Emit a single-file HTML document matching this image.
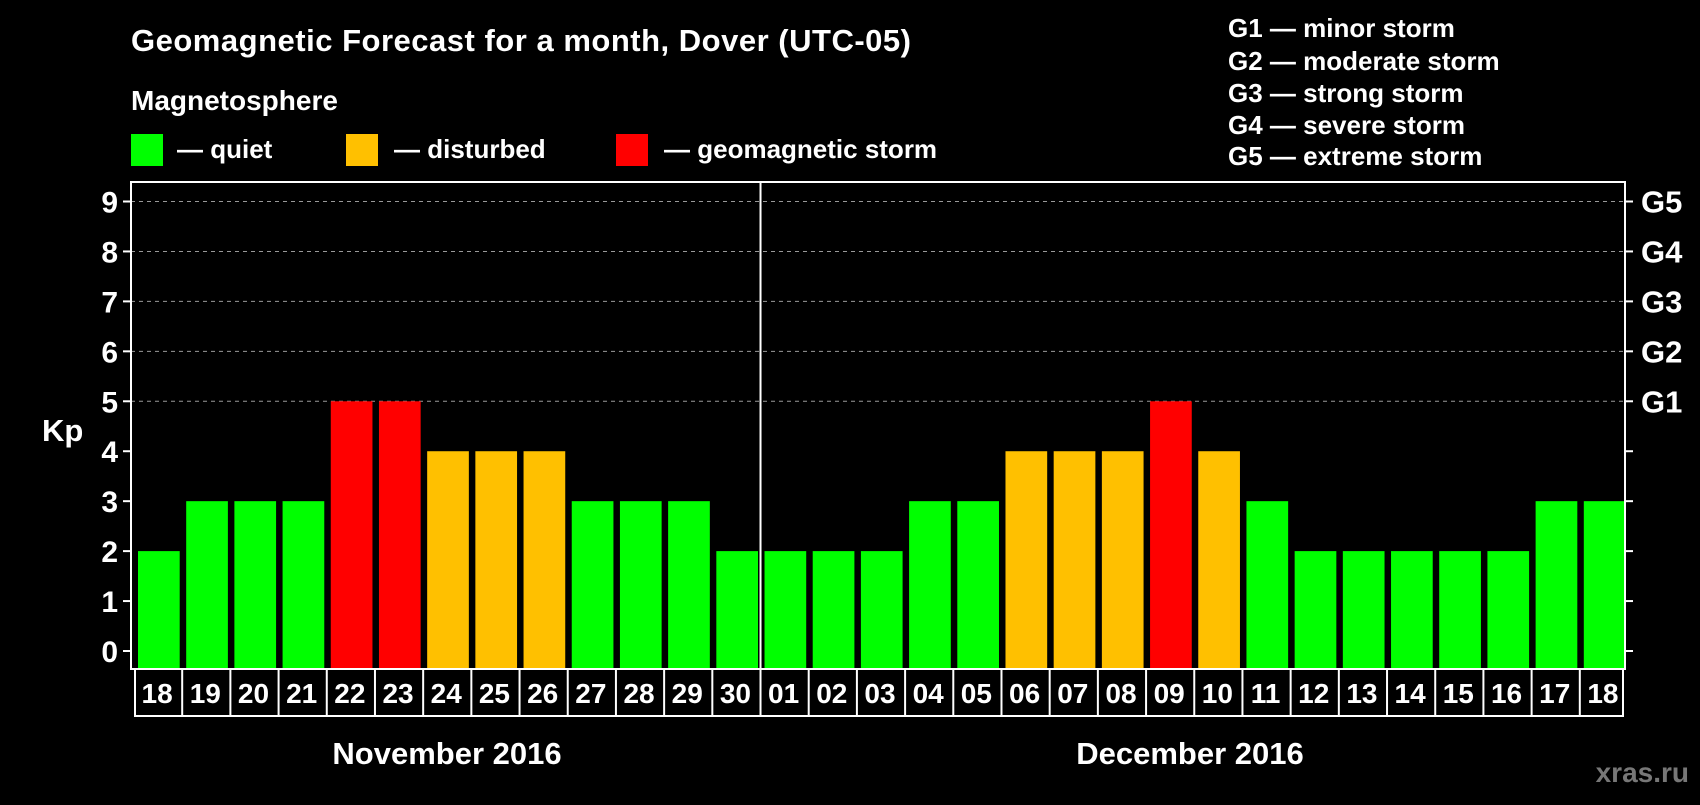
<!DOCTYPE html>
<html><head><meta charset="utf-8"><style>
body{margin:0;background:#000;width:1700px;height:800px;overflow:hidden}
svg text{font-family:"Liberation Sans",Arial,sans-serif;font-weight:bold;fill:#fff}
</style></head><body>
<svg id="c" width="1700" height="800">
<text x="131" y="51" font-size="31" textLength="780">Geomagnetic Forecast for a month, Dover (UTC-05)</text>
<text x="131" y="110" font-size="28">Magnetosphere</text>
<rect x="131" y="134" width="32" height="32" fill="#00ff00"/>
<text x="177" y="158" font-size="26">— quiet</text>
<rect x="346" y="134" width="32" height="32" fill="#ffc000"/>
<text x="394" y="158" font-size="26">— disturbed</text>
<rect x="616" y="134" width="32" height="32" fill="#ff0000"/>
<text x="664" y="158" font-size="26">— geomagnetic storm</text>
<g font-size="26">
<text x="1228" y="37">G1 — minor storm</text>
<text x="1228" y="70">G2 — moderate storm</text>
<text x="1228" y="102">G3 — strong storm</text>
<text x="1228" y="134">G4 — severe storm</text>
<text x="1228" y="165">G5 — extreme storm</text>
</g>
<text x="42" y="441" font-size="31">Kp</text>
<text x="447" y="764" font-size="31" text-anchor="middle">November 2016</text>
<text x="1190" y="764" font-size="31" text-anchor="middle">December 2016</text>
<text x="1689" y="782" font-size="28" text-anchor="end" style="fill:#777">xras.ru</text>
<g id="plot"></g>
</svg>
<script>
const days=["18","19","20","21","22","23","24","25","26","27","28","29","30","01","02","03","04","05","06","07","08","09","10","11","12","13","14","15","16","17","18"];
const kp=[2,3,3,3,5,5,4,4,4,3,3,3,2,2,2,2,3,3,4,4,4,5,4,3,2,2,2,2,2,3,3];
const yTicks=[0,1,2,3,4,5,6,7,8,9];
const gLabels=["G1","G2","G3","G4","G5"];
const L=131,R=1625,T=182,B=669,Y0=651,Y9=201.5,DB=716;
const NS="http://www.w3.org/2000/svg";
const g=document.getElementById('plot');
const step=(R-L)/days.length;
const y=v=>Y0+(Y9-Y0)*v/9;
const x=i=>L+i*step;
function mk(t,a){const e=document.createElementNS(NS,t);for(const k in a)e.setAttribute(k,a[k]);g.appendChild(e);return e;}
yTicks.forEach(v=>{
 if(v>=5){const l=mk('line',{x1:L,x2:R,y1:y(v),y2:y(v),stroke:'#999','stroke-dasharray':'4,4','stroke-width':1});
 
 }
 const t1=mk('line',{x1:L-8,x2:L,y1:y(v),y2:y(v),stroke:'#fff','stroke-width':2});
 
 
 const t2=mk('line',{x1:R,x2:R+8,y1:y(v),y2:y(v),stroke:'#fff','stroke-width':2});
 
 
 const tx=mk('text',{x:118,y:y(v)+11,'font-size':30,'text-anchor':'end'});tx.textContent=v;
 
 
});
gLabels.forEach((s,i)=>{const tx=mk('text',{x:1641,y:y(5+i)+11,'font-size':31});tx.textContent=s;
 
 });
kp.forEach((v,i)=>{
 const c=v>=5?'#ff0000':v>=4?'#ffc000':'#00ff00';
 const r=mk('rect',{x:x(i)+7,y:y(v),width:step-6.5,height:B-y(v),fill:c});
 
 
 const tx=mk('text',{x:x(i)+step/2+2,y:703,'font-size':28,'text-anchor':'middle'});tx.textContent=days[i];
 
 
 if(i>0){const d=mk('line',{x1:x(i)+3,x2:x(i)+3,y1:B,y2:DB,stroke:'#fff','stroke-width':2});
 
 }
});
const fr=mk('rect',{x:L,y:T,width:R-L,height:B-T,fill:'none',stroke:'#fff','stroke-width':2});


const db=mk('rect',{x:135,y:B,width:1488,height:DB-B,fill:'none',stroke:'#fff','stroke-width':2});


const sep=days.indexOf("01");
const ml=mk('line',{x1:x(sep)+3,x2:x(sep)+3,y1:T,y2:B,stroke:'#fff','stroke-width':2});


</script>
</body></html>
